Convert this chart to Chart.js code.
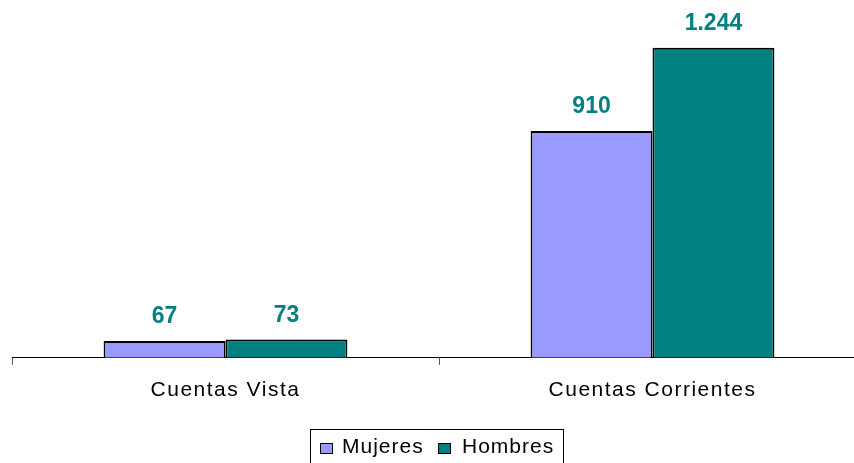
<!DOCTYPE html>
<html>
<head>
<meta charset="utf-8">
<script src="https://cdn.jsdelivr.net/npm/chart.js@4/dist/chart.umd.min.js"></script>
<style>
  html, body { margin: 0; padding: 0; background: #fff; overflow: hidden; }
  #wrap { width: 880px; height: 463px; }
</style>
</head>
<body>
<div id="wrap"><canvas id="grafica"></canvas></div>
<script>
// Datos
const categorias = ['Cuentas Vista', 'Cuentas Corrientes'];
const mujeres = [67, 910];
const hombres = [73, 1244];
const series = ['Mujeres', 'Hombres'];
const colores = ['#9999FF', '#008080'];

const fuente = "'Liberation Sans', Arial, sans-serif";

// Espaciado de letras para los textos del eje
const espaciado = {
    id: 'espaciado',
    beforeDraw(chart) {
        chart.ctx.letterSpacing = '1.5px';
    }
};

// Etiquetas de valor sobre las barras
const etiquetas = {
    id: 'etiquetas',
    afterDatasetsDraw(chart) {
        const ctx = chart.ctx;
        ctx.save();
        ctx.letterSpacing = '0px';
        ctx.font = 'bold 23px ' + fuente;
        ctx.fillStyle = '#008080';
        ctx.textAlign = 'center';
        ctx.textBaseline = 'middle';
        chart.data.datasets.forEach((ds, i) => {
            chart.getDatasetMeta(i).data.forEach((bar, j) => {
                ctx.fillText(ds.data[j].toLocaleString('es-CL'), bar.x, bar.y - 24);
            });
        });
        ctx.restore();
    }
};

// Leyenda con recuadro
const leyenda = {
    id: 'leyenda',
    afterDraw(chart) {
        const ctx = chart.ctx;
        ctx.save();
        ctx.letterSpacing = '1px';
        ctx.strokeStyle = '#000';
        ctx.lineWidth = 1;
        ctx.strokeRect(310.5, 429.5, 253, 40);
        ctx.font = '21px ' + fuente;
        ctx.textBaseline = 'alphabetic';
        const cuadros = [320, 438];
        const textos = [342, 462];
        series.forEach((s, i) => {
            ctx.fillStyle = colores[i];
            ctx.fillRect(cuadros[i] + 0.5, 443.5, 12, 10);
            ctx.strokeRect(cuadros[i] + 0.5, 443.5, 12, 10);
            ctx.fillStyle = '#000';
            ctx.fillText(s, textos[i], 453);
        });
        ctx.restore();
    }
};

const ctxG = document.getElementById('grafica').getContext('2d');
const grafica = new Chart(ctxG, {
    type: 'bar',
    data: {
        labels: categorias,
        datasets: [
            { label: series[0], data: mujeres, backgroundColor: colores[0] },
            { label: series[1], data: hombres, backgroundColor: colores[1] }
        ]
    },
    options: {
        responsive: true,
        maintainAspectRatio: false,
        animation: false,
        layout: { padding: { left: 12, right: 14, top: 9, bottom: 47 } },
        datasets: {
            bar: {
                borderColor: '#000',
                borderWidth: 1.8,
                borderSkipped: 'bottom',
                categoryPercentage: 0.571,
                barPercentage: 1
            }
        },
        plugins: {
            legend: { display: false },
            tooltip: { enabled: false }
        },
        scales: {
            x: {
                grid: { drawOnChartArea: false, tickLength: 7, color: '#555' },
                border: { display: true, color: '#000', width: 1 },
                ticks: { color: '#000', font: { family: fuente, size: 21 }, padding: 13 }
            },
            y: {
                display: false,
                min: 0,
                max: 1400
            }
        }
    },
    plugins: [espaciado, etiquetas, leyenda]
});
</script>
</body>
</html>
